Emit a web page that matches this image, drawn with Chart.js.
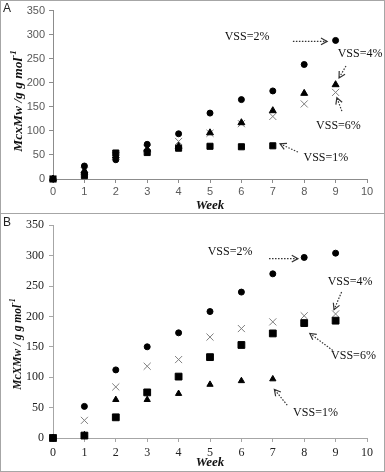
<!DOCTYPE html>
<html>
<head>
<meta charset="utf-8">
<script src="https://cdn.jsdelivr.net/npm/chart.js@4.4.0/dist/chart.umd.min.js"></script>
<style>
  body { margin: 0; background: #fff; }
  #wrap { position: relative; width: 385px; height: 472px; overflow: hidden; }
  canvas { position: absolute; left: 0; }
  .box { position: absolute; left: 0; width: 385px; border: 1px solid #a6a6a6; box-sizing: border-box; pointer-events: none; }
  .tag { position: absolute; left: 3px; font: 12px "Liberation Sans", Arial, sans-serif; color: #222; }
</style>
</head>
<body>
<div id="wrap">
  <canvas id="chartA" width="385" height="213" style="top:0"></canvas>
  <canvas id="chartB" width="385" height="259" style="top:213px"></canvas>
  <div class="box" style="top:0;height:214px"></div>
  <div class="box" style="top:213px;height:259px"></div>
  <div class="tag" style="top:1px">A</div>
  <div class="tag" style="top:215px">B</div>
</div>
<script>
// semanas
const weeks = [0, 1, 2, 3, 4, 5, 6, 7, 8, 9];

// painel A
const vss2A = [0, 27, 40, 72, 94, 137, 165, 183, 238, 288];
const vss4A = [0, 17, 48, 62, 68, 96, 117, 142, 178, 196];
const vss6A = [0, 17, 48, 63, 78, 95, 115, 130, 156, 180];
const vss1A = [0, 7, 54, 55, 64, 68, 67, 69];

// painel B
const vss2B = [0, 52, 112, 150, 173, 208, 240, 270, 297, 304];
const vss4B = [0, 29, 84, 118, 129, 166, 180, 191, 201, 204];
const vss6B = [0, 4, 34, 75, 101, 133, 153, 172, 189, 193];
const vss1B = [0, 5, 63, 63, 73, 88, 94, 97];

const labelsVSS = ['VSS=2%', 'VSS=4%', 'VSS=6%', 'VSS=1%'];

// rótulos com setas, em unidades do gráfico: [texto x, texto y, seta x1, y1, x2, y2]
const notasA = [
  [6.18, 296, 7.64, 286, 8.73, 286],
  [9.78, 260, 9.33, 235, 9.11, 210],
  [9.09, 110, 9.20, 141, 9.04, 169],
  [8.69, 43, 7.80, 56, 7.23, 73]
];
const notasB = [
  [5.64, 306, 6.88, 295, 7.80, 295],
  [9.46, 257, 9.19, 240, 8.95, 211],
  [9.57, 135, 8.91, 144, 8.18, 172],
  [8.36, 42, 7.46, 54, 7.05, 80]
];

const pts = arr => arr.map((v, i) => ({ x: weeks[i], y: v }));

function setaPlugin(notas, fonte) {
  return {
    id: 'setas',
    afterDatasetsDraw(chart) {
      const ctx = chart.ctx, xs = chart.scales.x, ys = chart.scales.y;
      ctx.save();
      ctx.font = fonte;
      ctx.fillStyle = '#111';
      ctx.textAlign = 'center';
      ctx.textBaseline = 'middle';
      notas.forEach((n, i) => {
        ctx.fillText(labelsVSS[i], xs.getPixelForValue(n[0]), ys.getPixelForValue(n[1]));
        const x1 = xs.getPixelForValue(n[2]), y1 = ys.getPixelForValue(n[3]);
        const x2 = xs.getPixelForValue(n[4]), y2 = ys.getPixelForValue(n[5]);
        ctx.strokeStyle = '#333';
        ctx.lineWidth = 1.2;
        ctx.setLineDash([1.5, 1.5]);
        ctx.beginPath(); ctx.moveTo(x1, y1); ctx.lineTo(x2, y2); ctx.stroke();
        ctx.setLineDash([]);
        const ang = Math.atan2(y2 - y1, x2 - x1);
        ctx.beginPath();
        ctx.moveTo(x2 - 7 * Math.cos(ang - 0.5), y2 - 7 * Math.sin(ang - 0.5));
        ctx.lineTo(x2, y2);
        ctx.lineTo(x2 - 7 * Math.cos(ang + 0.5), y2 - 7 * Math.sin(ang + 0.5));
        ctx.stroke();
      });
      ctx.restore();
    }
  };
}

function tituloY(texto, fonte, fonteSup, cx, cy) {
  return {
    id: 'tituloY',
    afterDraw(chart) {
      const ctx = chart.ctx;
      ctx.save();
      ctx.translate(cx, cy);
      ctx.rotate(-Math.PI / 2);
      ctx.fillStyle = '#111';
      ctx.textBaseline = 'middle';
      ctx.font = fonte;
      const w1 = ctx.measureText(texto).width;
      ctx.font = fonteSup;
      const w2 = ctx.measureText('-1').width;
      let x = -(w1 + w2) / 2;
      ctx.font = fonte;
      ctx.fillText(texto, x, 0);
      ctx.font = fonteSup;
      ctx.fillText('-1', x + w1, -5);
      ctx.restore();
    }
  };
}

function montar(id, series, estilo) {
  const marcas = [
    { pointStyle: 'circle', radius: 3, color: '#000', bw: 1 },
    { pointStyle: estilo.m4, radius: estilo.r4, color: estilo.c4, bw: estilo.b4 },
    { pointStyle: estilo.m6, radius: estilo.r6, color: estilo.c6, bw: estilo.b6 },
    { pointStyle: estilo.m1, radius: estilo.r1, color: estilo.c1, bw: estilo.b1 }
  ];
  const datasets = series.map((s, i) => ({
    label: labelsVSS[i],
    data: pts(s),
    pointStyle: marcas[i].pointStyle,
    pointRadius: marcas[i].radius,
    backgroundColor: marcas[i].color,
    borderColor: marcas[i].color,
    borderWidth: marcas[i].bw,
    showLine: false,
    clip: false,
    // quadrados por cima dos outros
    order: marcas[i].pointStyle === 'rect' ? 0 : i + 1
  }));
  return new Chart(document.getElementById(id), {
    type: 'scatter',
    data: { datasets },
    options: {
      responsive: false,
      animation: false,
      layout: { padding: { left: 0, right: 18, top: estilo.top, bottom: 0 } },
      plugins: { legend: { display: false }, tooltip: { enabled: false } },
      scales: {
        x: {
          type: 'linear', min: 0, max: 10,
          afterFit: s => { s.height = estilo.xh; },
          ticks: { stepSize: 1, color: estilo.tickColor, font: estilo.tickFont, padding: estilo.xpad, maxRotation: 0 },
          grid: { drawOnChartArea: false, tickLength: 4, color: estilo.axis },
          border: { color: estilo.axis },
          title: { display: true, text: 'Week', color: '#111', font: { family: 'Liberation Serif', size: 13, weight: 'bold', style: 'italic' }, padding: { top: 0, bottom: estilo.wpad } }
        },
        y: {
          min: 0, max: 350,
          afterFit: s => { s.width = 53; },
          ticks: { stepSize: 50, color: estilo.tickColor, font: estilo.tickFont, padding: estilo.ypad },
          grid: { drawOnChartArea: false, tickLength: 4, color: estilo.axis },
          border: { color: estilo.axis }
        }
      }
    },
    plugins: [setaPlugin(estilo.notas, '12px "Liberation Serif"'), estilo.titulo]
  });
}

montar('chartA', [vss2A, vss4A, vss6A, vss1A], {
  m4: 'triangle', r4: 4, c4: '#000', b4: 1,
  m6: 'crossRot', r6: 5, c6: '#7f7f7f', b6: 1,
  m1: 'rect', r1: 4.3, c1: '#000', b1: 1,
  top: 9, xh: 34, xpad: 2, ypad: 4, wpad: 0,
  tickColor: '#595959', tickFont: { family: 'Liberation Sans', size: 11 },
  axis: '#8c8c8c', notas: notasA,
  titulo: tituloY('McxMw /g g mol', 'italic bold 13.5px "Liberation Serif"', 'italic bold 9px "Liberation Serif"', 19, 101)
});

montar('chartB', [vss2B, vss4B, vss6B, vss1B], {
  m4: 'crossRot', r4: 5, c4: '#7f7f7f', b4: 1,
  m6: 'rect', r6: 4.8, c6: '#000', b6: 1,
  m1: 'triangle', r1: 3.6, c1: '#000', b1: 1,
  top: 11, xh: 34, xpad: 4, ypad: 5, wpad: 2,
  tickColor: '#222', tickFont: { family: 'Liberation Serif', size: 12 },
  axis: '#a6a6a6', notas: notasB,
  titulo: tituloY('McXMw / g g mol', 'italic bold 11.5px "Liberation Serif"', 'italic bold 8px "Liberation Serif"', 18, 131)
});
</script>
</body>
</html>
